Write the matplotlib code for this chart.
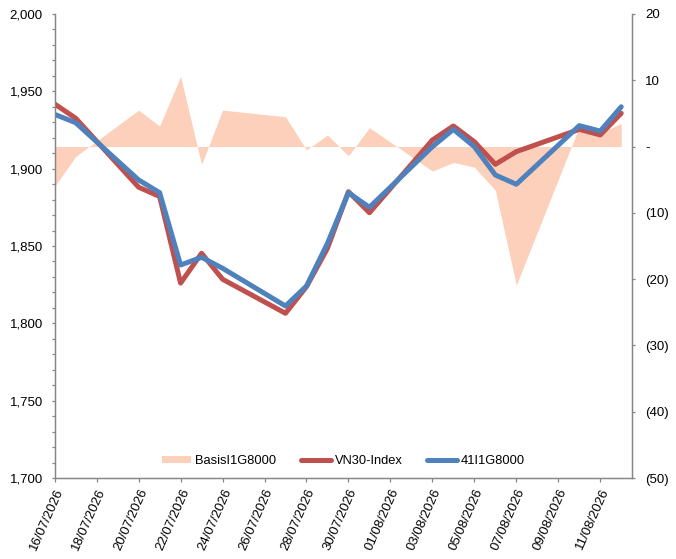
import numpy as np
import pandas as pd
import matplotlib
matplotlib.use('Agg')
import matplotlib.pyplot as plt
import matplotlib.dates as mdates
import matplotlib.ticker as mticker
from matplotlib.patches import Patch
from matplotlib.lines import Line2D

plt.rcParams['font.family'] = ['Liberation Sans', 'DejaVu Sans']

dates = pd.to_datetime([
    '2026-07-16', '2026-07-17', '2026-07-20', '2026-07-21', '2026-07-22',
    '2026-07-23', '2026-07-24', '2026-07-27', '2026-07-28', '2026-07-29',
    '2026-07-30', '2026-07-31', '2026-08-03', '2026-08-04', '2026-08-05',
    '2026-08-06', '2026-08-07', '2026-08-10', '2026-08-11', '2026-08-12'])

vn30 = [1941.8, 1932.6, 1888.0, 1882.0, 1826.0, 1845.3, 1828.5, 1806.5, 1823.7, 1848.5,
        1885.1, 1871.5, 1918.5, 1927.6, 1917.4, 1902.8, 1911.0, 1925.4, 1921.8, 1935.8]
fut = [1935.1, 1929.7, 1892.7, 1884.5, 1837.7, 1842.7, 1835.6, 1811.2, 1824.1, 1851.7,
       1884.5, 1875.0, 1914.2, 1925.4, 1914.2, 1895.9, 1889.9, 1927.8, 1924.3, 1940.0]
basis = [-6.0, -1.5, 5.5, 3.1, 10.6, -2.7, 5.5, 4.5, -0.5, 1.75,
         -1.4, 2.85, -3.7, -2.4, -3.1, -6.6, -20.9, 3.0, 2.0, 3.5]

red = '#C0504D'
blue = '#4F81BD'
peach = '#FCD0BB'
grey = '#868686'

fig = plt.figure(figsize=(6.76, 5.59), dpi=100)
ax = fig.add_axes([0.0809, 0.1449, 0.8536, 0.8301])
ax2 = ax.twinx()

# basis area on the right axis, behind the lines
ax2.fill_between(dates, 0, basis, color=peach, linewidth=0)
ax.set_zorder(ax2.get_zorder() + 1)
ax.patch.set_visible(False)

ax.plot(dates, vn30, color=red, lw=3.6, solid_joinstyle='round', solid_capstyle='round')
ax.plot(dates, fut, color=blue, lw=3.6, solid_joinstyle='round', solid_capstyle='round')

ax.set_ylim(1700, 2000)
ax.yaxis.set_major_locator(mticker.MultipleLocator(50))
ax.yaxis.set_minor_locator(mticker.MultipleLocator(10))
ax.yaxis.set_major_formatter(mticker.FuncFormatter(lambda v, p: '{:,.0f}'.format(v)))

ax2.set_ylim(-50, 20)
ax2.yaxis.set_major_locator(mticker.MultipleLocator(10))

def basis_fmt(v, p):
    if abs(v) < 1e-9:
        return '-'
    if v < 0:
        return '({:.0f})'.format(-v)
    return '{:.0f}'.format(v)

ax2.yaxis.set_major_formatter(mticker.FuncFormatter(basis_fmt))

x0 = pd.Timestamp('2026-07-16')
ax.set_xlim(x0, pd.Timestamp('2026-08-12') + pd.Timedelta(hours=12))
ticks = pd.date_range('2026-07-16', '2026-08-11', freq='2D')
ax.set_xticks(ticks)
ax.xaxis.set_major_formatter(mdates.DateFormatter('%d/%m/%Y'))
for lab in ax.get_xticklabels():
    lab.set_rotation(66)
    lab.set_ha('right')
    lab.set_rotation_mode('anchor')

for a in (ax, ax2):
    for s in a.spines.values():
        s.set_color(grey)
        s.set_linewidth(0.9)
    a.spines['top'].set_visible(False)
    a.tick_params(colors=grey, labelcolor='black', labelsize=9.5, width=0.9)
ax.tick_params(axis='y', which='major', length=2.5, pad=6)
ax.tick_params(axis='y', which='minor', length=2.5, color=grey, width=0.9)
ax.tick_params(axis='x', length=3, pad=3)
ax2.tick_params(axis='y', length=2.5, pad=7)

handles = [Patch(facecolor=peach, edgecolor='none'),
           Line2D([], [], color=red, lw=3.6, solid_capstyle='round'),
           Line2D([], [], color=blue, lw=3.6, solid_capstyle='round')]
labels = ['BasisI1G8000', 'VN30-Index', '41I1G8000']
ax.legend(handles, labels, loc='center', bbox_to_anchor=(0.5, 0.037), ncol=3,
          frameon=False, fontsize=9.3, handlelength=2.3, handleheight=0.45,
          handletextpad=0.3, columnspacing=1.9)

fig.savefig('out.png', dpi=100)
